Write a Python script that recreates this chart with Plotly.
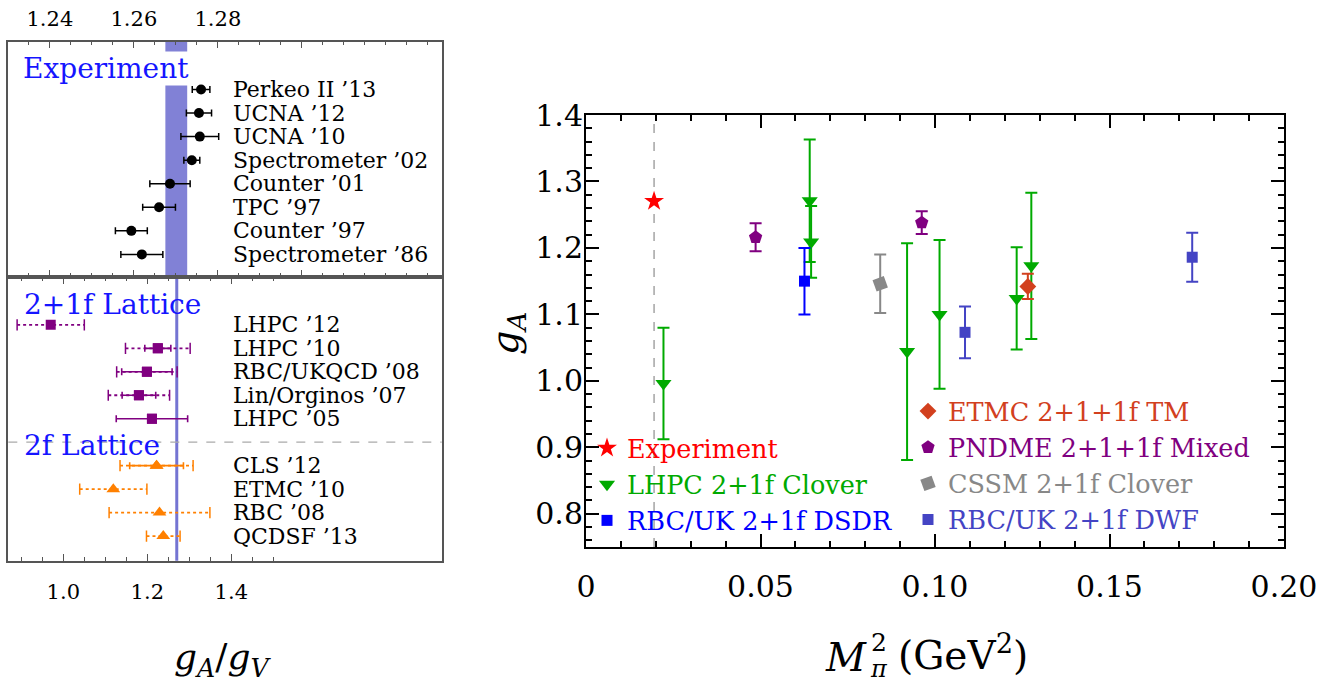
import plotly.graph_objects as go

# ---------------- Left panel: g_A/g_V from experiment and lattice ----------------
# Neutron beta-decay measurements (upper scale)
exp_labels = ["Perkeo II ’13", "UCNA ’12", "UCNA ’10", "Spectrometer ’02",
              "Counter ’01", "TPC ’97", "Counter ’97", "Spectrometer ’86"]
exp_values = [1.2760, 1.2755, 1.2757, 1.2738, 1.2686, 1.2660, 1.2594, 1.2619]
exp_errors = [0.0021, 0.0030, 0.0045, 0.0019, 0.0048, 0.0039, 0.0038, 0.0050]

# Experimental average (band / line)
ga_avg = 1.2701
ga_avg_err = 0.0026

# 2+1 flavour lattice results (lower scale); stat = solid bar, total = dotted bar
lat21_labels = ["LHPC ’12", "LHPC ’10", "RBC/UKQCD ’08", "Lin/Orginos ’07", "LHPC ’05"]
lat21_values = [0.970, 1.225, 1.199, 1.180, 1.211]
lat21_stat = [None, 0.031, 0.060, 0.040, 0.085]
lat21_total = [0.080, 0.077, 0.072, 0.073, None]

# 2 flavour lattice results
lat2_labels = ["CLS ’12", "ETMC ’10", "RBC ’08", "QCDSF ’13"]
lat2_values = [1.222, 1.119, 1.229, 1.238]
lat2_stat = [0.064, None, None, None]
lat2_total = [0.087, 0.080, 0.120, 0.040]

top_ticks = [1.24, 1.26, 1.28, 1.30]
top_ticktext = ["1.24", "1.26", "1.28", " "]
bottom_ticks = [1.0, 1.2, 1.4]
bottom_ticktext = ["1.0", "1.2", "1.4"]

# ---------------- Right panel: g_A versus M_pi^2 ----------------
exp_mpi2 = [0.0195]
exp_ga = [1.2701]

lhpc_mpi2 = [0.0222, 0.0641, 0.0645, 0.0920, 0.1013, 0.1234, 0.1276]
lhpc_ga = [0.996, 1.271, 1.209, 1.044, 1.100, 1.124, 1.173]
lhpc_err = [0.084, 0.092, 0.054, 0.163, 0.112, 0.077, 0.110]

dsdr_mpi2 = [0.0626]
dsdr_ga = [1.150]
dsdr_err = [0.050]

etmc_mpi2 = [0.1266]
etmc_ga = [1.142]
etmc_err = [0.019]

pndme_mpi2 = [0.0486, 0.0962]
pndme_ga = [1.216, 1.238]
pndme_err = [0.021, 0.017]

cssm_mpi2 = [0.0843]
cssm_ga = [1.146]
cssm_err = [0.044]

dwf_mpi2 = [0.1086, 0.1737]
dwf_ga = [1.073, 1.186]
dwf_err = [0.039, 0.037]

x_ticks = [0, 0.05, 0.10, 0.15, 0.20]
x_ticktext = ["0", "0.05", "0.10", "0.15", "0.20"]
y_ticks = [0.8, 0.9, 1.0, 1.1, 1.2, 1.3, 1.4]
y_ticktext = ["0.8", "0.9", "1.0", "1.1", "1.2", "1.3", "1.4"]

SERIF = "DejaVu Serif"
BAND = "#8181d6"
BOX = "#555555"
PURPLE = "#800080"
ORANGE = "#ff8000"
TITLE_BLUE = "#1515ff"

fig = go.Figure()

# ---- experiment rows (upper section) ----
exp_rows = [i + 1 for i in range(len(exp_labels))]
fig.add_trace(go.Scatter(
    x=exp_values, y=exp_rows, mode="markers", xaxis="x2", yaxis="y2",
    marker=dict(symbol="circle", size=10, color="black"),
    error_x=dict(type="data", array=exp_errors, color="black", thickness=1.5, width=3.5),
    showlegend=False, hoverinfo="skip"))


def add_lattice_group(values, stat, total, rows, color, symbol, size):
    # dotted total-error bars with end caps
    for v, t, r in zip(values, total, rows):
        if t is None:
            continue
        fig.add_trace(go.Scatter(
            x=[v - t, v + t], y=[r, r], mode="lines+markers", xaxis="x", yaxis="y",
            line=dict(color=color, width=1.8, dash="dot"),
            marker=dict(symbol="line-ns-open", size=8, line=dict(color=color, width=1.5)),
            showlegend=False, hoverinfo="skip"))
    # solid statistical bars
    sx = [v for v, s in zip(values, stat) if s is not None]
    sy = [r for r, s in zip(rows, stat) if s is not None]
    se = [s for s in stat if s is not None]
    fig.add_trace(go.Scatter(
        x=sx, y=sy, mode="markers", xaxis="x", yaxis="y",
        marker=dict(symbol=symbol, size=size, color=color),
        error_x=dict(type="data", array=se, color=color, thickness=1.6, width=3.5),
        showlegend=False, hoverinfo="skip"))
    # central values
    fig.add_trace(go.Scatter(
        x=values, y=rows, mode="markers", xaxis="x", yaxis="y",
        marker=dict(symbol=symbol, size=size, color=color),
        showlegend=False, hoverinfo="skip"))


lat21_rows = [i + 1 for i in range(len(lat21_labels))]
sep_row = len(lat21_labels) + 1
lat2_rows = [sep_row + i + 1 for i in range(len(lat2_labels))]
add_lattice_group(lat21_values, lat21_stat, lat21_total, lat21_rows, PURPLE, "square", 10)
add_lattice_group(lat2_values, lat2_stat, lat2_total, lat2_rows, ORANGE, "triangle-up", 12)

# ---- right panel ----
def name_html(text, color):
    return f'<span style="color:{color}">{text}</span>'


def add_series(x, y, err, color, symbol, size, label, legend, angle=0):
    fig.add_trace(go.Scatter(
        x=x, y=y, mode="markers", xaxis="x3", yaxis="y3",
        marker=dict(symbol=symbol, size=size, color=color, angle=angle),
        error_y=None if err is None else dict(type="data", array=err, color=color,
                                             thickness=2, width=6),
        name=name_html(label, color), legend=legend, hoverinfo="skip"))


add_series(exp_mpi2, exp_ga, None, "#ff0000", "star", 15, "Experiment", "legend")
add_series(lhpc_mpi2, lhpc_ga, lhpc_err, "#00aa00", "triangle-down", 14, "LHPC 2+1f Clover", "legend")
add_series(dsdr_mpi2, dsdr_ga, dsdr_err, "#0000ff", "square", 11, "RBC/UK 2+1f DSDR", "legend")
add_series(etmc_mpi2, etmc_ga, etmc_err, "#d2401e", "diamond", 13, "ETMC 2+1+1f TM", "legend2")
add_series(pndme_mpi2, pndme_ga, pndme_err, "#800080", "pentagon", 14, "PNDME 2+1+1f Mixed", "legend2")
add_series(cssm_mpi2, cssm_ga, cssm_err, "#888888", "square", 12, "CSSM 2+1f Clover", "legend2", angle=-20)
add_series(dwf_mpi2, dwf_ga, dwf_err, "#4444c4", "square", 11, "RBC/UK 2+1f DWF", "legend2")

# ---- layout ----
W, H = 1330, 687
def fx(px):
    return px / W
def fy(py):
    return 1 - py / H

left_dom = [fx(8.3), fx(441.7)]
box_axis = dict(showline=True, linecolor=BOX, linewidth=1.5,
                showgrid=False, zeroline=False, automargin=False)

# upper (experiment) scale
top_minor = [round(1.23 + 0.005 * k, 3) for k in range(21)]
# lower (lattice) scale
bottom_minor = [round(0.9 + 0.05 * k, 2) for k in range(13)]

label_font = dict(family=SERIF, size=22, color="black")
title_font = dict(family=SERIF, size=28, color=TITLE_BLUE)

annotations = []
for lab, r in zip(exp_labels, exp_rows):
    annotations.append(dict(text=lab, x=0.514, xref="x2 domain", y=r, yref="y2",
                            xanchor="left", yanchor="middle", showarrow=False,
                            font=label_font))
for lab, r in zip(lat21_labels + lat2_labels, lat21_rows + lat2_rows):
    annotations.append(dict(text=lab, x=0.514, xref="x domain", y=r, yref="y",
                            xanchor="left", yanchor="middle", showarrow=False,
                            font=label_font))
annotations += [
    dict(text="Experiment", x=0.031, xref="x2 domain", y=0.12, yref="y2",
         xanchor="left", yanchor="middle", showarrow=False, bgcolor="white", borderpad=0,
         font=title_font),
    dict(text="2+1f Lattice", x=0.031, xref="x domain", y=0.12, yref="y",
         xanchor="left", yanchor="middle", showarrow=False, font=title_font),
    dict(text="2f Lattice", x=0.031, xref="x domain", y=sep_row + 0.15, yref="y",
         xanchor="left", yanchor="middle", showarrow=False, font=title_font),
    # left x-axis title
    dict(text="<i>g<sub>A</sub></i>/<i>g<sub>V</sub></i>", x=fx(222), xref="paper",
         y=fy(659), yref="paper", xanchor="center", yanchor="middle", showarrow=False,
         font=dict(family=SERIF, size=36, color="black")),
    # right y-axis title
    dict(text="<i>g<sub>A</sub></i>", x=fx(507), xref="paper", y=fy(333), yref="paper",
         xanchor="center", yanchor="middle", showarrow=False, textangle=-90,
         font=dict(family=SERIF, size=38, color="black")),
    # right x-axis title: M with stacked pi subscript and 2 superscript
    dict(text="<i>M</i>", x=fx(869), xref="paper", y=fy(657), yref="paper",
         xanchor="right", yanchor="middle", showarrow=False,
         font=dict(family=SERIF, size=39, color="black")),
    dict(text="2", x=fx(869), xref="paper", y=fy(642), yref="paper",
         xanchor="left", yanchor="middle", showarrow=False,
         font=dict(family=SERIF, size=25, color="black")),
    dict(text="<i>π</i>", x=fx(868), xref="paper", y=fy(669), yref="paper",
         xanchor="left", yanchor="middle", showarrow=False,
         font=dict(family=SERIF, size=24, color="black")),
    dict(text="(GeV<sup>2</sup>)", x=fx(896), xref="paper", y=fy(653), yref="paper",
         xanchor="left", yanchor="middle", showarrow=False,
         font=dict(family=SERIF, size=39, color="black")),
]

shapes = [
    dict(type="rect", xref="x2", yref="y2 domain", x0=ga_avg - ga_avg_err,
         x1=ga_avg + ga_avg_err, y0=0, y1=1, fillcolor=BAND, line=dict(width=0), layer="below"),
    dict(type="line", xref="x", yref="y domain", x0=ga_avg, x1=ga_avg, y0=0, y1=1,
         line=dict(color="#7474d2", width=3), layer="below"),
    dict(type="line", xref="x domain", yref="y", x0=0, x1=1, y0=sep_row, y1=sep_row,
         line=dict(color="#aaaaaa", width=1.3, dash="dash"), layer="below"),
    dict(type="line", xref="x3", yref="y3 domain", x0=exp_mpi2[0], x1=exp_mpi2[0],
         y0=0, y1=1, line=dict(color="#777777", width=1, dash="dash"), layer="below"),
]

fig.update_layout(
    width=W, height=H, margin=dict(l=0, r=0, t=0, b=0, autoexpand=False),
    paper_bgcolor="white", plot_bgcolor="white",
    font=dict(family=SERIF, color="black"),
    # lower lattice section
    xaxis=dict(domain=left_dom, anchor="y", range=[0.869, 1.9009], side="bottom",
               tickmode="array", tickvals=bottom_ticks, ticktext=bottom_ticktext,
               ticks="inside", ticklen=7, tickwidth=1, tickcolor=BOX,
               minor=dict(tickmode="array", tickvals=bottom_minor, ticks="inside",
                          ticklen=4, tickwidth=1, tickcolor=BOX),
               tickfont=dict(family=SERIF, size=21), ticklabelstandoff=11,
               mirror="ticks", **box_axis),
    yaxis=dict(domain=[fy(560.7), fy(277)], anchor="x", range=[11.05, -1.04],
               showticklabels=False, ticks="", mirror=True, **box_axis),
    # upper experiment section
    xaxis2=dict(domain=left_dom, anchor="y2", range=[1.2301, 1.3333], side="top",
                tickmode="array", tickvals=top_ticks, ticktext=top_ticktext,
                ticks="inside", ticklen=7, tickwidth=1, tickcolor=BOX,
                minor=dict(tickmode="array", tickvals=top_minor, ticks="inside",
                           ticklen=4, tickwidth=1, tickcolor=BOX),
                tickfont=dict(family=SERIF, size=21), ticklabelstandoff=6,
                mirror="ticks", **box_axis),
    yaxis2=dict(domain=[fy(277), fy(41.7)], anchor="x2", range=[8.96, -1.03],
                showticklabels=False, ticks="", mirror=True, **box_axis),
    # right panel
    xaxis3=dict(domain=[fx(586), fx(1284)], anchor="y3", range=[0, 0.2],
                tickmode="array", tickvals=x_ticks, ticktext=x_ticktext,
                ticks="inside", ticklen=13, tickwidth=2, tickcolor="black",
                minor=dict(dtick=0.01, tick0=0, ticks="inside", ticklen=6, tickwidth=1.5,
                           tickcolor="black"),
                showline=True, linecolor="black", linewidth=2, mirror="ticks",
                showgrid=False, zeroline=False, automargin=False, ticklabelstandoff=12,
                tickfont=dict(family=SERIF, size=30)),
    yaxis3=dict(domain=[fy(547), fy(115)], anchor="x3", range=[0.75, 1.4],
                tickmode="array", tickvals=y_ticks, ticktext=y_ticktext,
                ticks="inside", ticklen=13, tickwidth=2, tickcolor="black",
                minor=dict(dtick=0.02, tick0=0.8, ticks="inside", ticklen=6, tickwidth=1.5,
                           tickcolor="black"),
                showline=True, linecolor="black", linewidth=2, mirror="ticks",
                showgrid=False, zeroline=False, automargin=False, ticklabelstandoff=-5,
                tickfont=dict(family=SERIF, size=30)),
    legend=dict(x=fx(587), y=fy(425), xanchor="left", yanchor="top",
                bgcolor="rgba(0,0,0,0)", font=dict(family=SERIF, size=25.5),
                itemwidth=30, tracegroupgap=0),
    legend2=dict(x=fx(908), y=fy(388), xanchor="left", yanchor="top",
                 bgcolor="rgba(0,0,0,0)", font=dict(family=SERIF, size=25.5),
                 itemwidth=30, tracegroupgap=0),
    annotations=annotations,
    shapes=shapes,
)

fig.write_html("out.html")
